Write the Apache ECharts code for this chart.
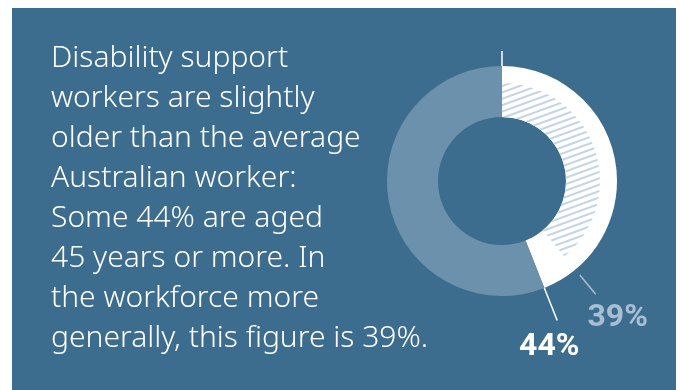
<!DOCTYPE html>
<html>
<head>
<meta charset="utf-8">
<script src="https://cdn.jsdelivr.net/npm/echarts@6/dist/echarts.min.js"></script>
<style>
html,body{margin:0;padding:0;background:#ffffff;}
#chart{width:680px;height:390px;}
</style>
</head>
<body>
<div id="chart"></div>
<script>
// ---- data ----
const headline = [
  'Disability support',
  'workers are slightly',
  'older than the average',
  'Australian worker:',
  'Some 44% are aged',
  '45 years or more. In',
  'the workforce more',
  'generally, this figure is 39%.'
];
const disabilityShare = [44, 56];      // disability support workers aged 45+ vs rest
const workforceShare = [39, 61];       // all workers aged 45+ vs rest
const leaderValues = [44, 39, 0];      // angular positions of the leader lines
const leaderLabels = ['44%', '39%', ''];

// ---- style ----
const PANEL = '#3d6d8e';
const REST = '#6b91ad';
const HATCH = '#c3d4e5';
const LABEL39 = '#a8bed3';
const CX = 502, CY = 181;
const leaderR0 = [115, 122, 115];
const leaderR1 = [150, 147, 130];
const leaderColor = ['#ffffff', LABEL39, '#ffffff'];
const labelColor = ['#ffffff', LABEL39, '#ffffff'];
const labelDx = [-8, 22, 0];
const labelDy = [27, 24, 0];

const chart = echarts.init(document.getElementById('chart'), null, {renderer: 'canvas'});
chart.setOption({
  animation: false,
  backgroundColor: '#ffffff',
  graphic: [{
    type: 'rect', z: -10, silent: true,
    shape: {x: 12, y: 8, width: 664, height: 382},
    style: {fill: PANEL}
  }],
  title: {
    text: headline.join('\n'),
    left: 46, top: 33,
    textStyle: {
      color: '#ffffff', fontFamily: 'Noto Sans', fontWeight: 300,
      fontSize: 30, lineHeight: 40
    }
  },
  polar: {center: [CX, CY], radius: 115},
  radiusAxis: {type: 'value', min: 0, max: 115, show: false},
  angleAxis: {type: 'value', min: 0, max: 100, startAngle: 90, clockwise: true, show: false},
  series: [
    {
      type: 'pie', silent: true,
      center: [CX, CY], radius: [64, 115],
      startAngle: 90, clockwise: true,
      label: {show: false}, labelLine: {show: false},
      data: [
        {value: disabilityShare[0], itemStyle: {color: '#ffffff'}},
        {value: disabilityShare[1], itemStyle: {color: REST}}
      ]
    },
    {
      type: 'pie', silent: true,
      center: [CX, CY], radius: [64, 98],
      startAngle: 90, clockwise: true,
      label: {show: false}, labelLine: {show: false},
      data: [
        {value: workforceShare[0], itemStyle: {
          color: '#ffffff',
          decal: {
            symbol: 'rect', symbolSize: 1,
            dashArrayX: [1, 0], dashArrayY: [1.2, 3.6],
            rotation: -0.35, color: HATCH
          }
        }},
        {value: workforceShare[1], itemStyle: {color: 'rgba(0,0,0,0)'}}
      ]
    },
    {
      type: 'custom', coordinateSystem: 'polar', silent: true, z: 10,
      data: leaderValues.map(v => [v]),
      encode: {angle: 0},
      renderItem: function (params, api) {
        const i = params.dataIndex;
        const a = api.value(0);
        const p0 = api.coord([leaderR0[i], a]);
        const p1 = api.coord([leaderR1[i], a]);
        const children = [{
          type: 'line',
          shape: {x1: p0[0], y1: p0[1], x2: p1[0], y2: p1[1]},
          style: {stroke: leaderColor[i], lineWidth: 1.5}
        }];
        if (leaderLabels[i]) {
          children.push({
            type: 'text',
            style: {
              x: p1[0] + labelDx[i], y: p1[1] + labelDy[i],
              text: leaderLabels[i], fill: labelColor[i],
              font: 'bold 32px Roboto', align: 'center', verticalAlign: 'middle'
            }
          });
        }
        return {type: 'group', children: children};
      }
    }
  ]
});
</script>
</body>
</html>
